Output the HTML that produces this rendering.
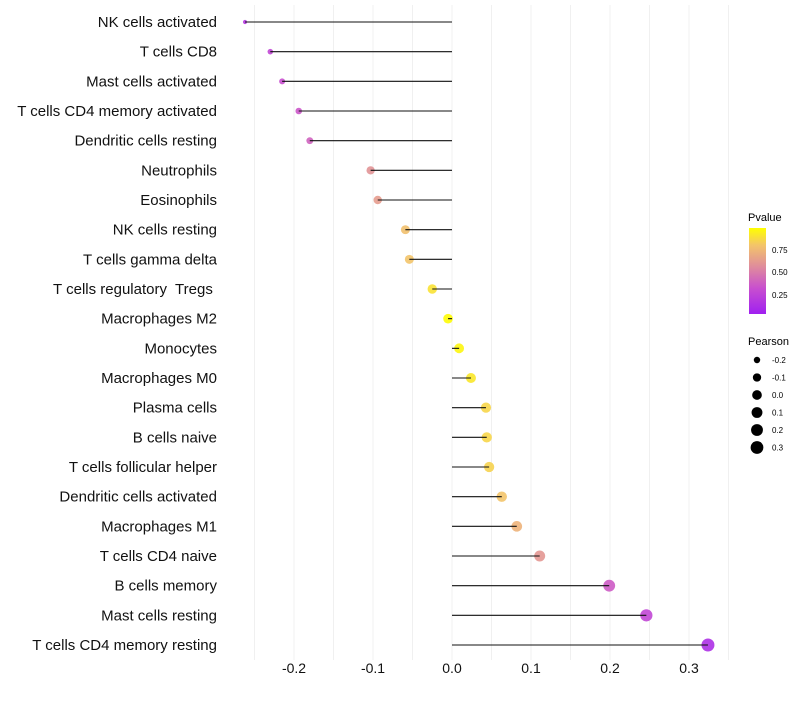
<!DOCTYPE html>
<html><head><meta charset="utf-8"><style>
body{margin:0;background:#fff;}
svg text{font-family:"Liberation Sans",sans-serif;white-space:pre;}
</style></head><body>
<svg id="chart" width="800" height="700" xmlns="http://www.w3.org/2000/svg">
<g id="grid"></g>
<g id="marks"></g>
<g id="ylabels"></g>
<g id="xlabels"></g>
<g id="legend">
  <defs><linearGradient id="pg" x1="0" y1="1" x2="0" y2="0">
    <stop offset="0" stop-color="#a020f0"/><stop offset="0.3" stop-color="#c84fcf"/><stop offset="0.55" stop-color="#df8c9c"/><stop offset="0.8" stop-color="#f3c46a"/><stop offset="1" stop-color="#ffff00"/>
  </linearGradient></defs>
  <text x="748" y="221" font-size="11" fill="#000">Pvalue</text>
  <rect x="749" y="228" width="17" height="86" fill="url(#pg)"/>
  <g font-size="8" fill="#000">
    <text x="772" y="253">0.75</text>
    <text x="772" y="275">0.50</text>
    <text x="772" y="298">0.25</text>
  </g>
  <text x="748" y="345" font-size="11" fill="#000">Pearson</text>
  <g id="sizeLegend"></g>
</g>
</svg>
<script>
const categories=["NK cells activated","T cells CD8","Mast cells activated","T cells CD4 memory activated","Dendritic cells resting","Neutrophils","Eosinophils","NK cells resting","T cells gamma delta","T cells regulatory  Tregs ","Macrophages M2","Monocytes","Macrophages M0","Plasma cells","B cells naive","T cells follicular helper","Dendritic cells activated","Macrophages M1","T cells CD4 naive","B cells memory","Mast cells resting","T cells CD4 memory resting"];
const pearson=[-0.262,-0.230,-0.215,-0.194,-0.180,-0.103,-0.094,-0.059,-0.054,-0.025,-0.005,0.009,0.024,0.043,0.044,0.047,0.063,0.082,0.111,0.199,0.246,0.324];
const pvalue=[0.15,0.25,0.3,0.33,0.38,0.58,0.62,0.78,0.8,0.9,0.99,0.97,0.92,0.86,0.86,0.85,0.8,0.72,0.6,0.35,0.25,0.1];
const xTicks=[-0.2,-0.1,0.0,0.1,0.2,0.3];
const sizeLegendVals=[-0.2,-0.1,0.0,0.1,0.2,0.3];
const NS="http://www.w3.org/2000/svg";
const X=v=>452+v*790;
const Y=i=>22+i*(623/21);
const R=v=>1.5+5*Math.sqrt(Math.max(0,(v+0.27)/0.6));
function lerp(a,b,t){return a+(b-a)*t;}
const stops=[[0,[160,32,240]],[0.3,[200,79,207]],[0.55,[223,140,156]],[0.8,[243,196,106]],[1,[255,255,0]]];
function col(p){for(let k=0;k<stops.length-1;k++){const[a,ca]=stops[k],[b,cb]=stops[k+1];if(p<=b){const t=(p-a)/(b-a);return`rgb(${ca.map((c,j)=>Math.round(lerp(c,cb[j],t))).join(",")})`;}}return"rgb(255,255,0)";}
function mk(tag,attrs,parent){const e=document.createElementNS(NS,tag);for(const k in attrs)e.setAttribute(k,attrs[k]);parent.appendChild(e);return e;}
const grid=document.getElementById("grid");
for(let g=-0.25;g<=0.351;g+=0.05){const l=mk("line",{x1:X(g),x2:X(g),y1:5,y2:660,stroke:"#f0f0f0","stroke-width":1},grid);

}
const marks=document.getElementById("marks"),yl=document.getElementById("ylabels"),xl=document.getElementById("xlabels");
categories.forEach((c,i)=>{
 const ci=mk("circle",{cx:X(pearson[i]),cy:Y(i),r:R(pearson[i]),fill:col(pvalue[i]),"fill-opacity":0.9},marks);
 
 
 const ln=mk("line",{x1:X(0),x2:X(pearson[i]),y1:Y(i),y2:Y(i),stroke:"#111","stroke-width":1.1},marks);
 
 
 const t=mk("text",{x:217,y:Y(i)+5,"text-anchor":"end","font-size":15,fill:"#111"},yl);
 t.textContent=c;
 
 
});
xTicks.forEach(v=>{const t=mk("text",{x:X(v),y:673,"text-anchor":"middle","font-size":14,fill:"#111"},xl);
 t.textContent=v.toFixed(1);
 
 });
const sl=document.getElementById("sizeLegend");
sizeLegendVals.forEach((v,k)=>{const y=360+k*17.5;
 const c=mk("circle",{cx:757,cy:y,r:R(v),fill:"#000"},sl);
 
 
 const t=mk("text",{x:772,y:y+3,"font-size":8,fill:"#000"},sl);
 t.textContent=v.toFixed(1);
 
 });
</script>
</body></html>
